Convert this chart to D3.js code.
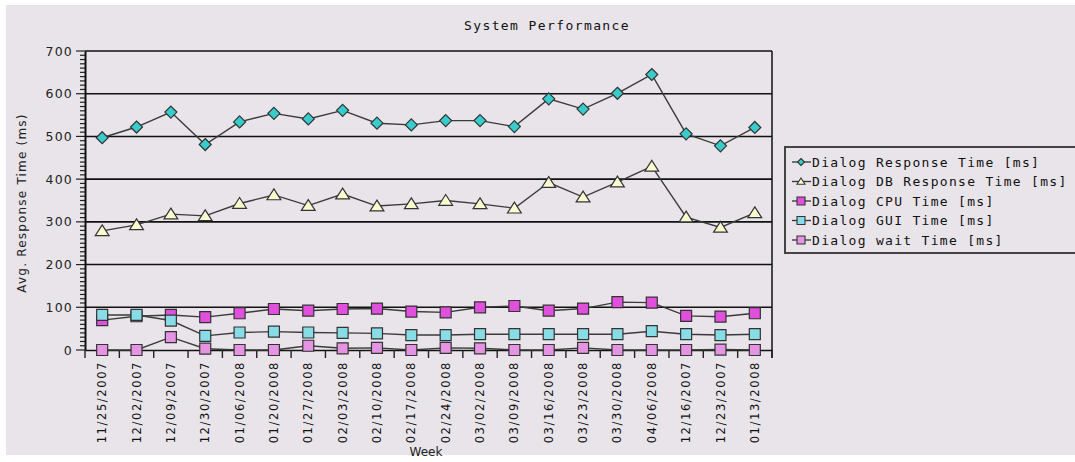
<!DOCTYPE html>
<html>
<head>
<meta charset="utf-8">
<script src="https://cdn.jsdelivr.net/npm/d3@7"></script>
<style>
  body { margin: 0; background: #ffffff; }
  svg { display: block; }
</style>
</head>
<body>
<div id="chart"></div>
<script>
// DATA
var weeks = ["11/25/2007","12/02/2007","12/09/2007","12/30/2007","01/06/2008","01/20/2008","01/27/2008",
             "02/03/2008","02/10/2008","02/17/2008","02/24/2008","03/02/2008","03/09/2008","03/16/2008",
             "03/23/2008","03/30/2008","04/06/2008","12/16/2007","12/23/2007","01/13/2008"];
var responseTime   = [497,522,557,481,534,554,541,561,531,527,537,537,523,588,564,601,645,506,478,521];
var dbResponseTime = [279,293,318,314,343,363,338,365,337,342,350,342,332,392,358,393,430,311,287,321];
var cpuTime        = [70,79,82,77,86,96,92,96,97,90,88,100,103,92,97,112,111,80,78,86];
var guiTime        = [82,82,69,33,41,43,41,40,39,35,35,37,37,37,37,37,44,37,35,37];
var waitTime       = [0,0,30,3,0,0,10,4,5,0,5,4,0,0,5,0,0,0,1,0];
var yTicks = [0,100,200,300,400,500,600,700];
var seriesNames = ["Dialog Response Time [ms]","Dialog DB Response Time [ms]","Dialog CPU Time [ms]",
                   "Dialog GUI Time [ms]","Dialog wait Time [ms]"];

var series = [
  {name: seriesNames[0], values: responseTime,   shape: "diamond",  fill: "#38cccc"},
  {name: seriesNames[1], values: dbResponseTime, shape: "triangle", fill: "#fcfcd0"},
  {name: seriesNames[2], values: cpuTime,        shape: "square",   fill: "#e050dc"},
  {name: seriesNames[3], values: guiTime,        shape: "square",   fill: "#88dce6"},
  {name: seriesNames[4], values: waitTime,       shape: "square",   fill: "#e494e2"}
];

var W = 1075, H = 462;
var bg = "#e8e4ea";
var monoFont = "'DejaVu Sans Mono', monospace";
var sansFont = "'DejaVu Sans', sans-serif";

var svg = d3.select("#chart").append("svg")
  .attr("width", W).attr("height", H);

svg.append("rect").attr("x", 0).attr("y", 0).attr("width", W).attr("height", H).attr("fill", "#ffffff");
svg.append("rect").attr("x", 6).attr("y", 5).attr("width", W - 6).attr("height", 450).attr("fill", bg);

// scales
var x = d3.scaleBand().domain(weeks).range([85, 772]).padding(0);
var y = d3.scaleLinear().domain([0, 700]).range([350, 51]);
var cx = function(d) { return x(d) + x.bandwidth() / 2; };

// marker path
function marker(shape, s) {
  if (shape == "diamond") {
    return "M0," + (-s) + "L" + s + ",0L0," + s + "L" + (-s) + ",0Z";
  } else if (shape == "triangle") {
    return "M0," + (-s) + "L" + (s * 1.15) + "," + (s * 0.8) + "L" + (-s * 1.15) + "," + (s * 0.8) + "Z";
  }
  return "M" + (-s) + "," + (-s) + "h" + (2 * s) + "v" + (2 * s) + "h" + (-2 * s) + "Z";
}

// title
svg.append("text").attr("x", 547).attr("y", 30)
  .attr("text-anchor", "middle")
  .style("font-family", monoFont).style("font-size", "13px").style("letter-spacing", "1.4px")
  .attr("fill", "#111").text("System Performance");

// grid lines
svg.append("g").selectAll("line")
  .data(yTicks.filter(function(t) { return t > 0; }))
  .enter().append("line")
  .attr("x1", 85).attr("x2", 772)
  .attr("y1", function(d) { return y(d); }).attr("y2", function(d) { return y(d); })
  .attr("stroke", "#111").attr("stroke-width", 1.6);

// right border
svg.append("line").attr("x1", 772).attr("x2", 772).attr("y1", y(700)).attr("y2", 358)
  .attr("stroke", "#111").attr("stroke-width", 1.5);

// Y axis with minor ticks
var minor = d3.range(0, 701, 10);
svg.append("g").selectAll("line").data(minor).enter().append("line")
  .attr("x1", function(d) { return d % 100 == 0 ? 76 : 80; }).attr("x2", 85)
  .attr("y1", function(d) { return y(d); }).attr("y2", function(d) { return y(d); })
  .attr("stroke", "#222").attr("stroke-width", 1.2);
var yAxis = svg.append("g").attr("transform", "translate(85,0)")
  .call(d3.axisLeft(y).tickValues(yTicks).tickSize(0).tickPadding(12));
yAxis.select(".domain").attr("stroke", "#111").attr("stroke-width", 2);
yAxis.selectAll("text")
  .style("font-family", sansFont).style("font-size", "12.5px").style("letter-spacing", "1.2px")
  .attr("fill", "#222");

// X axis
var xAxis = svg.append("g").attr("transform", "translate(0,350)")
  .call(d3.axisBottom(x).tickSize(0).tickPadding(0));
xAxis.select(".domain").attr("stroke", "#111").attr("stroke-width", 1.6);
xAxis.selectAll("text")
  .attr("transform", "translate(0,11)rotate(-90)")
  .attr("dy", "0.35em").attr("x", 0).attr("y", 0)
  .style("text-anchor", "end")
  .style("font-family", sansFont).style("font-size", "11.5px").style("letter-spacing", "1.6px")
  .attr("fill", "#111");
// boundary ticks
svg.append("g").selectAll("line").data(d3.range(weeks.length + 1)).enter().append("line")
  .attr("x1", function(i) { return 85 + i * x.bandwidth(); })
  .attr("x2", function(i) { return 85 + i * x.bandwidth(); })
  .attr("y1", 350).attr("y2", 358)
  .attr("stroke", "#222").attr("stroke-width", 1.4);

// axis titles
svg.append("text").attr("transform", "translate(26,203)rotate(-90)")
  .attr("text-anchor", "middle")
  .style("font-family", sansFont).style("font-size", "12px").style("letter-spacing", "1.2px")
  .attr("fill", "#222").text("Avg. Response Time (ms)");
svg.append("text").attr("x", 426).attr("y", 456)
  .attr("text-anchor", "middle")
  .style("font-family", sansFont).style("font-size", "12px")
  .attr("fill", "#222").text("Week");

// series
var line = d3.line()
  .x(function(d, i) { return cx(weeks[i]); })
  .y(function(d) { return y(d); });

series.forEach(function(s) {
  svg.append("path").datum(s.values)
    .attr("d", line).attr("fill", "none")
    .attr("stroke", "#3a3a3a").attr("stroke-width", 1.4);
});
series.forEach(function(s) {
  var size = s.shape == "square" ? 5.5 : 6;
  svg.append("g").selectAll("path").data(s.values).enter().append("path")
    .attr("transform", function(d, i) { return "translate(" + cx(weeks[i]) + "," + y(d) + ")"; })
    .attr("d", marker(s.shape, size))
    .attr("fill", s.fill).attr("stroke", "#333").attr("stroke-width", 1.2);
});

// legend
var lg = svg.append("g");
lg.append("rect").attr("x", 785).attr("y", 147).attr("width", 300).attr("height", 106)
  .attr("fill", bg).attr("stroke", "#444").attr("stroke-width", 2);
var rows = lg.selectAll("g.row").data(series).enter().append("g")
  .attr("transform", function(d, i) { return "translate(0," + (162 + i * 19.5) + ")"; });
rows.append("line").attr("x1", 792).attr("x2", 811).attr("y1", 0).attr("y2", 0)
  .attr("stroke", "#333").attr("stroke-width", 1.3);
rows.append("path").attr("transform", "translate(801,0)")
  .attr("d", function(d) { return marker(d.shape, d.shape == "square" ? 4 : 3.5); })
  .attr("fill", function(d) { return d.fill; }).attr("stroke", "#333").attr("stroke-width", 1.1);
rows.append("text").attr("x", 812).attr("y", 0).attr("dy", "0.35em")
  .style("font-family", monoFont).style("font-size", "13px").style("letter-spacing", "1.3px")
  .attr("fill", "#111").text(function(d) { return d.name; });
</script>
</body>
</html>
